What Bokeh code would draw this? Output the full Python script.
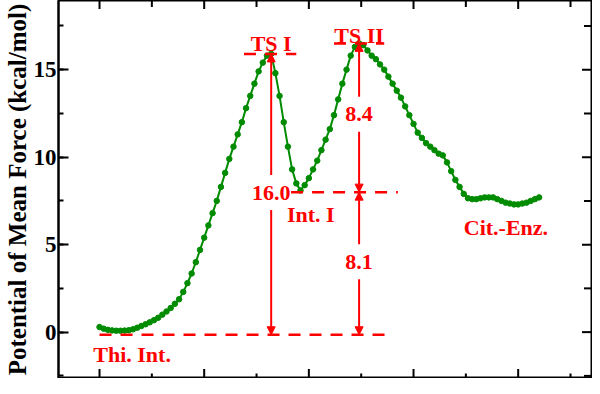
import numpy as np
from bokeh.plotting import figure
from bokeh.models import (SingleIntervalTicker, Arrow, NormalHead,
                          Range1d, ColumnDataSource)
from bokeh.core.properties import value
from bokeh.embed import file_html
from bokeh.resources import INLINE

# ---------------- data ----------------
# reaction coordinate (x axis carries no tick labels)
coord = np.round(np.arange(106) * 0.04, 2)

# potential of mean force (kcal/mol)
pmf = [
    0.29, 0.20, 0.13, 0.10, 0.08, 0.08, 0.09, 0.11, 0.16, 0.25,
    0.35, 0.45, 0.56, 0.68, 0.82, 1.00, 1.18, 1.38, 1.62, 1.88,
    2.30, 2.80, 3.35, 4.00, 4.70, 5.40, 6.10, 6.80, 7.50, 8.30,
    9.10, 9.90, 10.6, 11.3, 12.0, 12.8, 13.5, 14.2, 14.9, 15.4,
    15.8, 15.9, 14.8, 13.5, 12.0, 10.6, 9.30, 8.50, 8.10, 8.40,
    8.80, 9.30, 9.80, 10.4, 11.0, 11.6, 12.4, 13.3, 14.2, 15.0,
    15.8, 16.3, 16.5, 16.4, 16.1, 15.8, 15.6, 15.3, 15.0, 14.6,
    14.2, 13.8, 13.4, 12.9, 12.4, 11.9, 11.4, 11.1, 10.8, 10.6,
    10.4, 10.2, 10.1, 9.70, 9.20, 8.70, 8.30, 7.90, 7.65, 7.60,
    7.60, 7.65, 7.70, 7.70, 7.70, 7.60, 7.50, 7.40, 7.35, 7.30,
    7.30, 7.35, 7.40, 7.50, 7.60, 7.70,
]

# energy levels of the marked states (kcal/mol)
E_thi = -0.15
E_ts1 = 15.9
E_int1 = 8.0
E_ts2 = 16.5

state_labels = ["Thi. Int.", "TS I", "Int. I", "TS II", "Cit.-Enz."]
barrier_labels = ["16.0", "8.4", "8.1"]

# tick positions
x_major_ticks = [0, 1, 2, 3, 4]
x_minor_ticks = [0.5, 1.5, 2.5, 3.5, 4.5]
y_major_ticks = [0, 5, 10, 15]
y_minor_ticks = [-2.5, 2.5, 7.5, 12.5, 17.5]
axis_title = "Potential of Mean Force (kcal/mol)"

X0, X1 = -0.392, 4.71
Y0, Y1 = -2.65, 18.95

# ---------------- figure ----------------
RED = "#ff0000"
GREEN = "#008b00"
FONT = value("Liberation Serif")

p = figure(width=592, height=378, x_range=Range1d(X0, X1),
           y_range=Range1d(Y0, Y1), output_backend="svg",
           toolbar_location=None, min_border_left=0, min_border_right=0,
           min_border_top=0, min_border_bottom=0)
p.title.visible = False
p.grid.visible = False
p.outline_line_color = "black"
p.outline_line_width = 2
p.background_fill_color = "white"
p.border_fill_color = "white"
p.xaxis.visible = False

ya = p.yaxis[0]
ya.ticker = SingleIntervalTicker(interval=5, num_minor_ticks=2)
ya.axis_line_width = 2
ya.major_tick_line_width = 2
ya.minor_tick_line_width = 2
ya.major_tick_in = 10
ya.major_tick_out = 0
ya.minor_tick_in = 5
ya.minor_tick_out = 0
ya.major_label_text_font = "Liberation Serif"
ya.major_label_text_font_style = "bold"
ya.major_label_text_font_size = "23px"
ya.major_label_text_color = "black"
ya.major_label_standoff = 2
ya.axis_label = axis_title
ya.axis_label_text_font = "Liberation Serif"
ya.axis_label_text_font_style = "bold"
ya.axis_label_text_font_size = "25px"
ya.axis_label_text_color = "black"
ya.axis_label_standoff = 0

# inward tick marks on the unlabeled sides (clipped to the frame -> half shows)
tick_kw = dict(marker="dash", line_color="black", line_width=2)
p.scatter(x=x_major_ticks, y=[Y0] * len(x_major_ticks), angle=np.pi / 2, size=19, **tick_kw)
p.scatter(x=x_minor_ticks, y=[Y0] * len(x_minor_ticks), angle=np.pi / 2, size=10, **tick_kw)
p.scatter(x=x_major_ticks, y=[Y1] * len(x_major_ticks), angle=np.pi / 2, size=17, **tick_kw)
p.scatter(x=x_minor_ticks, y=[Y1] * len(x_minor_ticks), angle=np.pi / 2, size=13, **tick_kw)
p.scatter(x=[X1] * len(y_major_ticks), y=y_major_ticks, size=21, **tick_kw)
p.scatter(x=[X1] * len(y_minor_ticks), y=y_minor_ticks, size=17, **tick_kw)

# ---------------- curve ----------------
src = ColumnDataSource(dict(x=coord, y=pmf))
p.line("x", "y", source=src, line_color=GREEN, line_width=2)
p.scatter("x", "y", source=src, size=5.5, fill_color=GREEN, line_color=GREEN)

# ---------------- annotations ----------------
pmf_arr = np.array(pmf)
i_ts1 = int(np.argmax(pmf_arr[:50]))
i_ts2 = int(np.argmax(pmf_arr))
x_ts1 = float(coord[i_ts1])
x_ts2 = float(coord[i_ts2])

dash = "12 9"
seg = ColumnDataSource(dict(
    x0=[float(coord[0]), x_ts1 + 0.19, x_ts1 - 0.26, x_ts2 - 0.24],
    x1=[x_ts2 + 0.29, x_ts2 + 0.37, x_ts1 + 0.24, x_ts2 + 0.24],
    y0=[E_thi, E_int1, E_ts1, E_ts2],
    y1=[E_thi, E_int1, E_ts1, E_ts2],
))
p.segment("x0", "y0", "x1", "y1", source=seg, line_color=RED,
          line_width=2.5, line_dash=dash)

# vertical double arrows split around the barrier labels
gap = 1.0
mid1 = (E_ts1 + E_thi) / 2 + 0.1
mid2 = (E_ts2 + E_int1) / 2 + 0.2
mid3 = (E_int1 + E_thi) / 2 + 0.1
arrow_specs = [
    (x_ts1, mid1 + gap, E_ts1), (x_ts1, mid1 - gap, E_thi),
    (x_ts2, mid2 + gap, E_ts2), (x_ts2, mid2 - gap, E_int1),
    (x_ts2, mid3 + gap, E_int1), (x_ts2, mid3 - gap, E_thi),
]
for xa, ys, ye in arrow_specs:
    p.add_layout(Arrow(x_start=xa, y_start=ys, x_end=xa, y_end=ye,
                       line_color=RED, line_width=2,
                       end=NormalHead(size=8, fill_color=RED, line_color=RED,
                                      line_width=1)))

txt = dict(text_font=FONT, text_font_style="bold", text_font_size="22px",
           text_color=RED)
p.text(x=[x_ts1, x_ts2, x_ts2], y=[mid1, mid2, mid3], text=barrier_labels,
       text_align="center", text_baseline="middle", **txt)
p.text(x=[x_ts1], y=[E_ts1 + 0.6], text=[state_labels[1]],
       text_align="center", text_baseline="alphabetic", **txt)
p.text(x=[x_ts2], y=[E_ts2 + 0.45], text=[state_labels[3]],
       text_align="center", text_baseline="alphabetic", **txt)
p.text(x=[float(coord[0]) - 0.06], y=[E_thi - 1.12], text=[state_labels[0]],
       text_align="left", text_baseline="alphabetic", **txt)
p.text(x=[x_ts1 + 0.15], y=[E_int1 - 1.3], text=[state_labels[2]],
       text_align="left", text_baseline="alphabetic", **txt)
p.text(x=[float(coord[87])], y=[6.0], text=[state_labels[4]],
       text_align="left", text_baseline="alphabetic", **txt)

open("out.html", "w").write(file_html(p, INLINE))
